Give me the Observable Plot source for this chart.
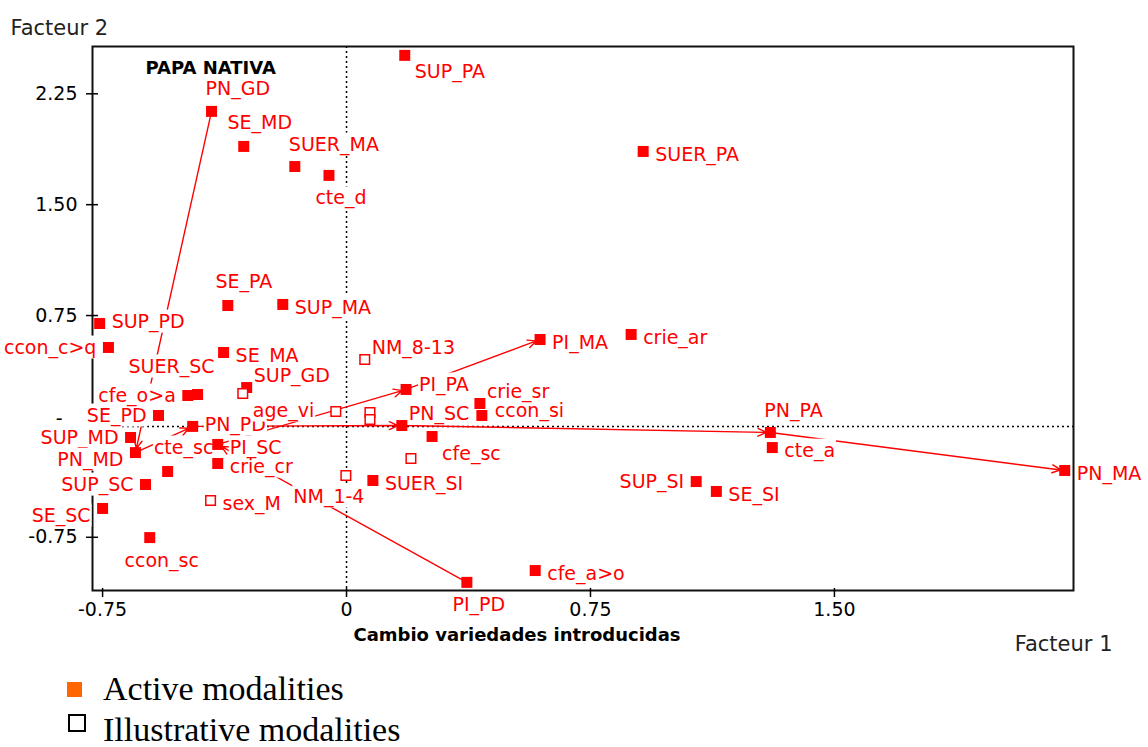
<!DOCTYPE html>
<html>
<head>
<meta charset="utf-8">
<script src="https://cdn.jsdelivr.net/npm/d3@7"></script>
<script src="https://cdn.jsdelivr.net/npm/@observablehq/plot@0.6"></script>
<style>
  html, body { margin: 0; padding: 0; background: #fff; }
  #wrap { width: 1148px; position: relative; }
  #legend { position: relative; width: 1148px; height: 82px; font-family: "Liberation Serif", serif; font-size: 34px; line-height: 34px; color: #000; }
  #legend .sw { position: absolute; box-sizing: border-box; }
  #legend .lt { position: absolute; white-space: nowrap; }
</style>
</head>
<body>
<div id="wrap">
  <div id="chart"></div>
  <div id="legend"></div>
</div>
<script>
// ---- data ----
const names = ["SUP_PA","PN_GD","SE_MD","SUER_MA","cte_d","SUER_PA","SE_PA","SUP_MA","SUP_PD","ccon_c>q",
  "SE_MA","cfe_o>a","SUER_SC","SUP_GD","age_vi","SE_PD","PN_PD","SUP_MD","PN_MD","cte_sc",
  "SUP_SC","SE_SC","ccon_sc","PI_SC","crie_cr","sex_M","NM_1-4","SUER_SI","PI_PD","cfe_a>o",
  "NM_8-13","PI_PA","PN_SC","crie_sr","ccon_si","cfe_sc","PI_MA","crie_ar","PN_PA","cte_a",
  "SUP_SI","SE_SI","PN_MA","","","",""];
const factor1 = [0.179,-0.415,-0.316,-0.159,-0.054,0.912,-0.365,-0.196,-0.759,-0.732,
  -0.378,-0.488,-0.458,-0.307,-0.319,-0.578,-0.473,-0.664,-0.649,-0.550,
  -0.618,-0.750,-0.605,-0.396,-0.396,-0.418,-0.002,0.081,0.370,0.580,
  0.056,0.183,0.170,0.410,0.416,0.263,0.595,0.875,1.303,1.309,
  1.075,1.137,2.208,-0.033,0.072,0.072,0.198];
const factor2 = [2.510,2.131,1.894,1.758,1.698,1.860,0.818,0.825,0.696,0.534,
  0.500,0.209,0.216,0.263,0.223,0.074,0.000,-0.075,-0.177,-0.305,
  -0.393,-0.555,-0.752,-0.122,-0.251,-0.501,-0.332,-0.366,-1.055,-0.975,
  0.453,0.250,0.006,0.155,0.074,-0.068,0.588,0.622,-0.041,-0.143,
  -0.373,-0.440,-0.298,0.101,0.094,0.047,-0.217];
// "A" = active modality, "I" = illustrative modality
const kind = ["A","A","A","A","A","A","A","A","A","A",
  "A","A","A","A","I","A","A","A","A","A",
  "A","A","A","A","A","I","I","A","A","A",
  "I","A","A","A","A","A","A","A","A","A",
  "A","A","A","I","I","I","I"];
// label placement relative to the point
const labelDir = ["br","t","tm","t","b","r","tm","r","r0","l",
  "r","l","tl","tr","br","l","r0","l","lb","tm",
  "l","lb","b","r","r","r","bl","r","b","r",
  "tr","rt","tr","tr","rt","br","r","r","t","r",
  "l","r","r","","","",""];
// trajectories (arrows drawn between consecutive modalities)
const trajPN = ["PN_GD","PN_MD","PN_PD","PN_SC","PN_PA","PN_MA"];
const trajPI = ["PI_PD","PI_SC","PI_PA","PI_MA"];
// axes
const xTicks = [-0.75, 0, 0.75, 1.5];
const xTickLabels = ["-0.75","0","0.75","1.50"];
const yTicks = [-0.75, 0, 0.75, 1.5, 2.25];
const yTickLabels = ["-0.75","","0.75","1.50","2.25"];
const yZeroLabel = "-";
const chartTitle = "PAPA NATIVA";
const xTitle = "Cambio variedades introducidas";
const axis1Name = "Facteur 1";
const axis2Name = "Facteur 2";
const legendItems = ["Active modalities", "Illustrative modalities"];

// ---- build ----
const RED = "#ff0000";
const points = names.map((n, i) => ({name: n, f1: factor1[i], f2: factor2[i], kind: kind[i], dir: labelDir[i]}));
const byName = new Map(points.filter(p => p.name).map(p => [p.name, p]));
const segments = [];
for (const traj of [trajPN, trajPI]) {
  for (let i = 0; i < traj.length - 1; i++) {
    const a = byName.get(traj[i]), b = byName.get(traj[i + 1]);
    segments.push({x1: a.f1, y1: a.f2, x2: b.f1, y2: b.f2});
  }
}
const dirs = {
  r:  {dx: 12,  dy: 3,   anchor: "start"},
  r0: {dx: 12,  dy: -2,  anchor: "start"},
  rt: {dx: 13,  dy: -5,  anchor: "start"},
  l:  {dx: -12, dy: 0,   anchor: "end"},
  lb: {dx: -12, dy: 7,   anchor: "end"},
  t:  {dx: -6,  dy: -22, anchor: "start"},
  tm: {dx: 16,  dy: -24, anchor: "middle"},
  b:  {dx: 12,  dy: 23,  anchor: "middle"},
  br: {dx: 10,  dy: 17,  anchor: "start"},
  bl: {dx: -17, dy: 21,  anchor: "middle"},
  tr: {dx: 7,   dy: -12, anchor: "start"},
  tl: {dx: -26, dy: -28, anchor: "middle"}
};
const labelMarks = Object.entries(dirs).map(([k, o]) =>
  Plot.text(points.filter(p => p.dir === k && p.name), {
    x: "f1", y: "f2", text: "name", dx: o.dx, dy: o.dy, textAnchor: o.anchor,
    fill: RED, fontSize: 19, ariaDescription: "point label"
  })
);

const chart = Plot.plot({
  width: 1148,
  height: 665,
  marginLeft: 92,
  marginRight: 75,
  marginTop: 46,
  marginBottom: 75,
  style: {fontFamily: "DejaVu Sans", background: "#fff", color: "#000"},
  x: {domain: [-0.781, 2.235]},
  y: {domain: [-1.110, 2.570]},
  marks: [
    Plot.frame({stroke: "#111", strokeWidth: 2}),
    Plot.axisX(xTicks, {tickFormat: d => xTickLabels[xTicks.indexOf(d)], tickSize: 9, dy: -2, tickPadding: 5, fontSize: 19, label: null, strokeWidth: 1.5}),
    Plot.axisY(yTicks, {tickFormat: d => yTickLabels[yTicks.indexOf(d)], tickSize: 12, dx: 6, tickPadding: 9, fontSize: 19, label: null, strokeWidth: 1.5}),
    Plot.axisY([0], {tickFormat: () => yZeroLabel, tickSize: 0, tickPadding: 30, dy: -8, fontSize: 19, label: null}),
    Plot.ruleX([0], {stroke: "#000", strokeWidth: 1.5, strokeDasharray: "2,3"}),
    Plot.ruleY([0], {stroke: "#000", strokeWidth: 1.5, strokeDasharray: "2,3"}),
    Plot.arrow(segments, {x1: "x1", y1: "y1", x2: "x2", y2: "y2", stroke: RED, strokeWidth: 1.4, headLength: 10, headAngle: 50, insetEnd: 4}),
    ...labelMarks,
    Plot.dot(points.filter(p => p.kind === "A"), {x: "f1", y: "f2", symbol: "square", r: 6.2, fill: RED, stroke: "none"}),
    Plot.dot(points.filter(p => p.kind === "I"), {x: "f1", y: "f2", symbol: "square", r: 5.4, fill: "#fff", stroke: RED, strokeWidth: 1.5}),
    Plot.text([chartTitle], {text: d => d, frameAnchor: "top-left", textAnchor: "start", dx: 53, dy: 15, fontWeight: "bold", fontSize: 18, fill: "#000"}),
    Plot.text([xTitle], {text: d => d, frameAnchor: "bottom", textAnchor: "middle", dx: -66, dy: 50, fontWeight: "bold", fontSize: 18, fill: "#000"}),
    Plot.text([axis1Name], {text: d => d, frameAnchor: "bottom-right", textAnchor: "end", dx: 39, dy: 60, fontSize: 21, fill: "#222"}),
    Plot.text([axis2Name], {text: d => d, frameAnchor: "top-left", textAnchor: "start", dx: -82, dy: -26, fontSize: 21, fill: "#222"})
  ]
});
document.getElementById("chart").append(chart);

// white boxes behind point labels (they mask lines and frame, as in the original)
chart.querySelectorAll('g[aria-description="point label"]').forEach(g => {
  const texts = Array.from(g.querySelectorAll("text"));
  const first = g.firstChild;
  texts.forEach(t => {
    const b = t.getBBox();
    const r = document.createElementNS("http://www.w3.org/2000/svg", "rect");
    r.setAttribute("x", b.x - 1);
    r.setAttribute("y", b.y);
    r.setAttribute("width", b.width + 2);
    r.setAttribute("height", b.height);
    r.setAttribute("fill", "#fff");
    r.setAttribute("stroke", "none");
    const tr = t.getAttribute("transform");
    if (tr) r.setAttribute("transform", tr);
    g.insertBefore(r, first);
  });
});

// legend
const legend = document.getElementById("legend");
legend.innerHTML = `
  <div class="sw" style="left:67px;top:17px;width:15px;height:15px;background:#ff6600"></div>
  <div class="lt" style="left:103px;top:7px">${legendItems[0]}</div>
  <div class="sw" style="left:68px;top:49px;width:18px;height:18px;border:2px solid #000;background:#fff"></div>
  <div class="lt" style="left:103px;top:48px">${legendItems[1]}</div>`;
</script>
</body>
</html>
